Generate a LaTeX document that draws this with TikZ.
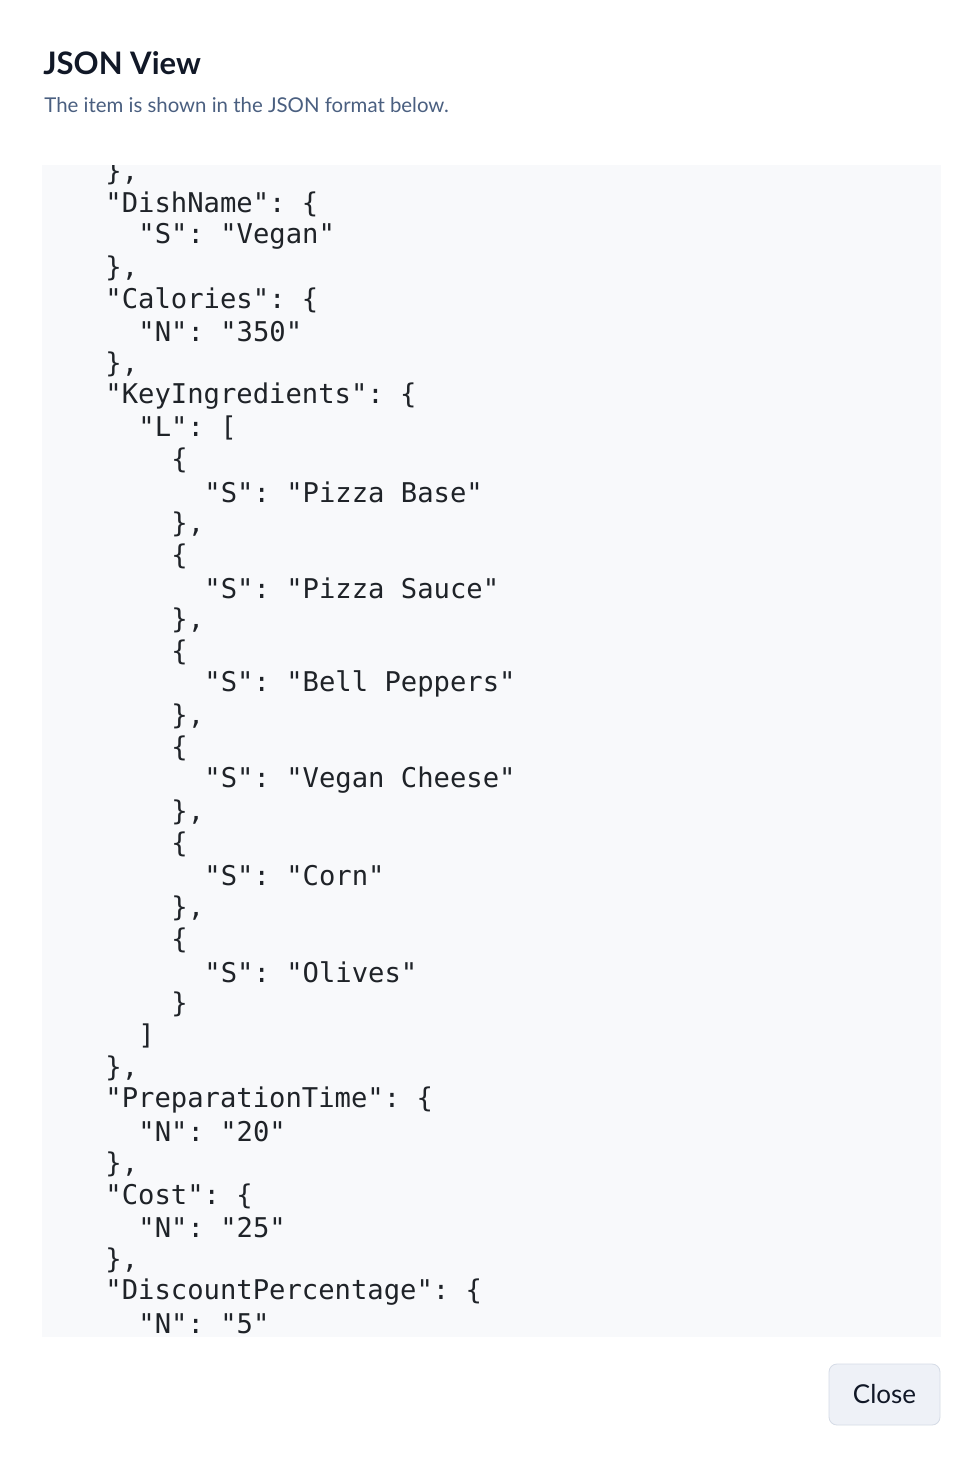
\documentclass[tikz,border=0pt]{standalone}
\usepackage{fontspec}
\setmainfont{Lato}
\setmonofont{DejaVu Sans Mono}
\definecolor{titlecol}{HTML}{111827}
\definecolor{subcol}{HTML}{4A5F80}
\definecolor{codebg}{HTML}{F8F9FB}
\definecolor{codecol}{HTML}{1F2328}
\definecolor{btnbg}{HTML}{EEF1F7}
\definecolor{btnline}{HTML}{D5DBE6}
\tikzset{
  codeline/.style={anchor=west, inner sep=0pt, text=codecol,
    font=\ttfamily\fontsize{13.6}{16}\selectfont},
  closebtn/.style={draw=btnline, fill=btnbg, rounded corners=4pt,
    minimum width=55.5pt, minimum height=30.5pt,
    font=\fontsize{13}{15}\selectfont, text=titlecol}
}
\begin{document}
\begin{tikzpicture}[x=0.5pt, y=-0.5pt]
  \useasboundingbox (0,0) rectangle (980,1468);
  \fill[white] (0,0) rectangle (980,1468);
  % header
  \node[anchor=base west, inner sep=0pt, text=titlecol,
    font=\bfseries\fontsize{15.5}{18}\selectfont] (title) at (43,74) {JSON View};
  \node[anchor=base west, inner sep=0pt, text=subcol,
    font=\fontsize{10.2}{12}\selectfont] (subtitle) at (44,112)
    {The item is shown in the JSON format below.};
  % code area
  \fill[codebg] (42,165) rectangle (941,1337);
  \begin{scope}
    \clip (42,165) rectangle (941,1337);
    \foreach \k/\t [count=\n from 0] in {
      0/{\},},
      0/{"DishName": \{},
      2/{"S": "Vegan"},
      0/{\},},
      0/{"Calories": \{},
      2/{"N": "350"},
      0/{\},},
      0/{"KeyIngredients": \{},
      2/{"L": [},
      4/{\{},
      6/{"S": "Pizza Base"},
      4/{\},},
      4/{\{},
      6/{"S": "Pizza Sauce"},
      4/{\},},
      4/{\{},
      6/{"S": "Bell Peppers"},
      4/{\},},
      4/{\{},
      6/{"S": "Vegan Cheese"},
      4/{\},},
      4/{\{},
      6/{"S": "Corn"},
      4/{\},},
      4/{\{},
      6/{"S": "Olives"},
      4/{\}},
      2/{]},
      0/{\},},
      0/{"PreparationTime": \{},
      2/{"N": "20"},
      0/{\},},
      0/{"Cost": \{},
      2/{"N": "25"},
      0/{\},},
      0/{"DiscountPercentage": \{},
      2/{"N": "5"}}
      \node[codeline] (line\n) at ({105+16.5*\k}, {172+32*\n}) {\t};
  \end{scope}
  % button
  \node[closebtn] (close) at (884.5,1394.5) {Close};
\end{tikzpicture}
\end{document}
